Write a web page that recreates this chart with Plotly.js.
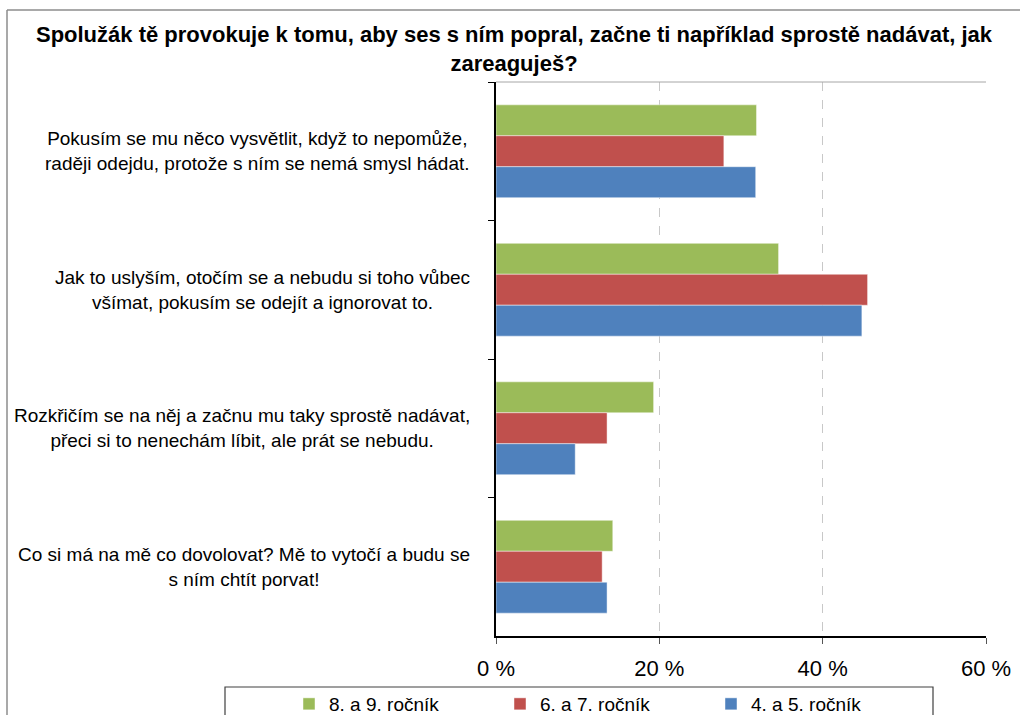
<!DOCTYPE html>
<html>
<head>
<meta charset="utf-8">
<script src="https://cdn.plot.ly/plotly-3.0.1.min.js"></script>
<style>html,body{margin:0;padding:0;background:#fff;}#chart{width:1020px;height:715px;}</style>
</head>
<body>
<div id="chart"></div>
<script>
var chartTitle = "Spolužák tě provokuje k tomu, aby ses s ním popral, začne ti například sprostě nadávat, jak<br>zareaguješ?";
var categories = [
  "Pokusím se mu něco vysvětlit, když to nepomůže,<br>raději odejdu, protože s ním se nemá smysl hádat.",
  "Jak to uslyším, otočím se a nebudu si toho vůbec<br>všímat, pokusím se odejít a ignorovat to.",
  "Rozkřičím se na něj a začnu mu taky sprostě nadávat,<br>přeci si to nenechám líbit, ale prát se nebudu.",
  "Co si má na mě co dovolovat? Mě to vytočí a budu se<br>s ním chtít porvat!"
];
var seriesNames = ["8. a 9. ročník", "6. a 7. ročník", "4. a 5. ročník"];
var grade89 = [31.9, 34.6, 19.3, 14.3];
var grade67 = [27.9, 45.5, 13.6, 13.0];
var grade45 = [31.8, 44.8, 9.7, 13.6];
var xTickValues = [0, 20, 40, 60];
var xTickLabels = ["0 %", "20 %", "40 %", "60 %"];

var colors = ["#9BBB59", "#C0504D", "#4F81BD"];
var values = [grade89, grade67, grade45];
var traces = values.map(function (v, i) {
  return {
    type: "bar", orientation: "h", name: seriesNames[i],
    x: v, y: categories,
    marker: {color: colors[i], line: {color: "rgba(255,255,255,0.45)", width: 1}},
    hoverinfo: "x+name"
  };
});

var W = 1020, H = 715;
var L = 496, R = 986, T = 82, B = 636;
var pw = R - L, ph = B - T;
function px(xp) { return (xp - L) / pw; }
function py(yp) { return (B - yp) / ph; }

var annotations = categories.map(function (c) {
  return {
    text: c, xref: "paper", yref: "y", x: px(472), y: c,
    xanchor: "right", yanchor: "middle", align: "center", showarrow: false,
    font: {family: "Liberation Sans, Arial, sans-serif", size: 19, color: "#000"}
  };
});

var layout = {
  width: W, height: H,
  margin: {l: L, r: W - R, t: T, b: H - B, pad: 0, autoexpand: false},
  paper_bgcolor: "#fff", plot_bgcolor: "#fff",
  title: {
    text: chartTitle, x: 514 / W, xanchor: "center", xref: "container",
    y: 1 - 42 / H, yref: "container", yanchor: "top",
    font: {family: "Liberation Sans, Arial, sans-serif", size: 22, color: "#000", weight: "bold"}
  },
  barmode: "group", bargap: 0.33, bargroupgap: 0,
  showlegend: true,
  legend: {
    orientation: "h", x: px(289), xanchor: "left", y: py(685), yanchor: "top",
    bgcolor: "rgba(0,0,0,0)", borderwidth: 0,
    entrywidth: 166, entrywidthmode: "pixels",
    font: {family: "Liberation Sans, Arial, sans-serif", size: 19, color: "#000"},
    traceorder: "normal"
  },
  xaxis: {
    range: [0, 60], tickmode: "array", tickvals: xTickValues, ticktext: xTickLabels,
    showgrid: true, gridcolor: "#c8c8c8", griddash: "dash", gridwidth: 1,
    zeroline: false, showline: true, linecolor: "#000", linewidth: 2,
    ticks: "outside", ticklen: 6, tickcolor: "#555", tickwidth: 1,
    ticklabelstandoff: 6,
    tickfont: {family: "Liberation Sans, Arial, sans-serif", size: 22, color: "#000"},
    fixedrange: true
  },
  yaxis: {
    type: "category", autorange: "reversed",
    showticklabels: false, showgrid: false, zeroline: false,
    showline: true, linecolor: "#000", linewidth: 2,
    ticks: "outside", tickson: "boundaries", ticklen: 6, tickcolor: "#000", tickwidth: 1,
    fixedrange: true
  },
  annotations: annotations,
  shapes: [
    {type: "line", xref: "paper", yref: "paper", x0: 0, x1: 1, y0: 1, y1: 1,
     line: {color: "#a6a6a6", width: 1}},
    {type: "line", xref: "paper", yref: "paper", x0: px(7), x1: px(1020), y0: py(10), y1: py(10),
     line: {color: "#8c8c8c", width: 1.5}},
    {type: "line", xref: "paper", yref: "paper", x0: px(7), x1: px(7), y0: py(10), y1: py(716),
     line: {color: "#8c8c8c", width: 1.5}},
    {type: "rect", xref: "paper", yref: "paper", x0: px(225), x1: px(933), y0: py(687), y1: py(730),
     line: {color: "#404040", width: 1.2}, fillcolor: "rgba(0,0,0,0)"}
  ]
};

Plotly.newPlot("chart", traces, layout, {displayModeBar: false, staticPlot: true});
</script>
</body>
</html>
